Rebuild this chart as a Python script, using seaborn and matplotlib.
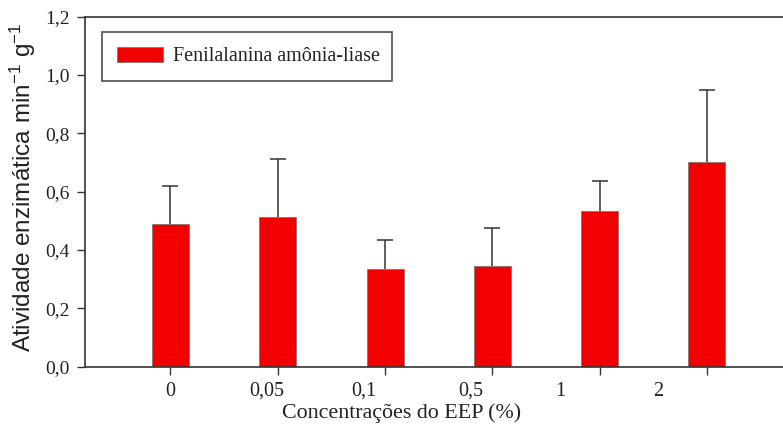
import matplotlib
matplotlib.use("Agg")
import matplotlib.pyplot as plt
import seaborn as sns
import pandas as pd
import numpy as np

# ---- data ----
concentrations = ["0", "0,05", "0,1", "0,5", "1", "2"]
pal_activity = [0.489, 0.514, 0.336, 0.344, 0.534, 0.701]
pal_error = [0.131, 0.197, 0.097, 0.133, 0.103, 0.248]
series_name = "Fenilalanina amônia-liase"
y_ticks = [0.0, 0.2, 0.4, 0.6, 0.8, 1.0, 1.2]
y_tick_labels = ["0,0", "0,2", "0,4", "0,6", "0,8", "1,0", "1,2"]

# ---- layout (label offsets as in the original figure) ----
label_shift = [0.0, -0.099, -0.196, -0.205, -0.363, -0.457]

sns.set_theme(style="ticks")
plt.rcParams["font.family"] = ["Liberation Serif", "DejaVu Serif"]
plt.rcParams["mathtext.default"] = "regular"

df = pd.DataFrame({"conc": concentrations, "val": pal_activity})

fig = plt.figure(figsize=(7.83, 4.29), dpi=100)
ax = fig.add_axes([85 / 783, 1 - 366.7 / 429, 1 - 85 / 783, 350 / 429])

sns.barplot(data=df, x="conc", y="val", order=concentrations, color="#f20000",
            saturation=1, width=0.345, edgecolor="#8a7470", linewidth=0.6,
            errorbar=None, label=series_name, ax=ax)

pos = np.arange(len(concentrations))
eb = ax.errorbar(pos, pal_activity, yerr=[np.zeros(len(pal_error)), pal_error],
                 fmt="none", ecolor="#333333", elinewidth=1.1, capsize=5.5,
                 capthick=1.1, zorder=3)
# keep only the upper caps
for cap in eb[1]:
    if np.allclose(cap.get_ydata(), pal_activity):
        cap.set_visible(False)

ax.set_ylim(0, 1.2)
ax.set_xlim(-0.797, 5.71)
ax.set_yticks(y_ticks)
ax.set_yticklabels(y_tick_labels)

ax.xaxis.remove_overlapping_locs = False
ax.set_xticks(pos)
ax.set_xticklabels([""] * len(pos))
ax.set_xticks(pos + np.array(label_shift), minor=True)
ax.set_xticklabels(concentrations, minor=True)

ax.tick_params(axis="both", which="major", direction="out", length=6,
               width=1.0, color="#333333", labelsize=14, labelcolor="#222222")
ax.tick_params(axis="y", which="major", pad=5)
ax.tick_params(axis="x", which="minor", length=0, pad=11, labelsize=14.5,
               labelcolor="#222222")

for side in ["left", "bottom", "top"]:
    ax.spines[side].set_visible(True)
    ax.spines[side].set_color("#333333")
    ax.spines[side].set_linewidth(1.2)
ax.spines["right"].set_visible(False)

ax.set_xlabel("Concentrações do EEP (%)", fontsize=15.8, color="#222222")
ax.xaxis.set_label_coords(0.4537, -0.105)
ax.set_ylabel("Atividade enzimática min$^{-1}$ g$^{-1}$", fontsize=17.5,
              family=["Liberation Sans", "DejaVu Sans"], color="#222222")
ax.yaxis.set_label_coords(-0.068, 0.513)

leg = ax.legend(loc="upper left", bbox_to_anchor=(0.0244, 0.955, 0.4155, 0.0),
                mode="expand", borderaxespad=0, fontsize=14.5, frameon=True,
                fancybox=False, edgecolor="#222222", borderpad=0.72,
                handlelength=2.3, handleheight=0.75, handletextpad=0.5)
leg.get_frame().set_linewidth(1.2)
for t in leg.get_texts():
    t.set_color("#222222")

fig.savefig("out.png", dpi=100)
